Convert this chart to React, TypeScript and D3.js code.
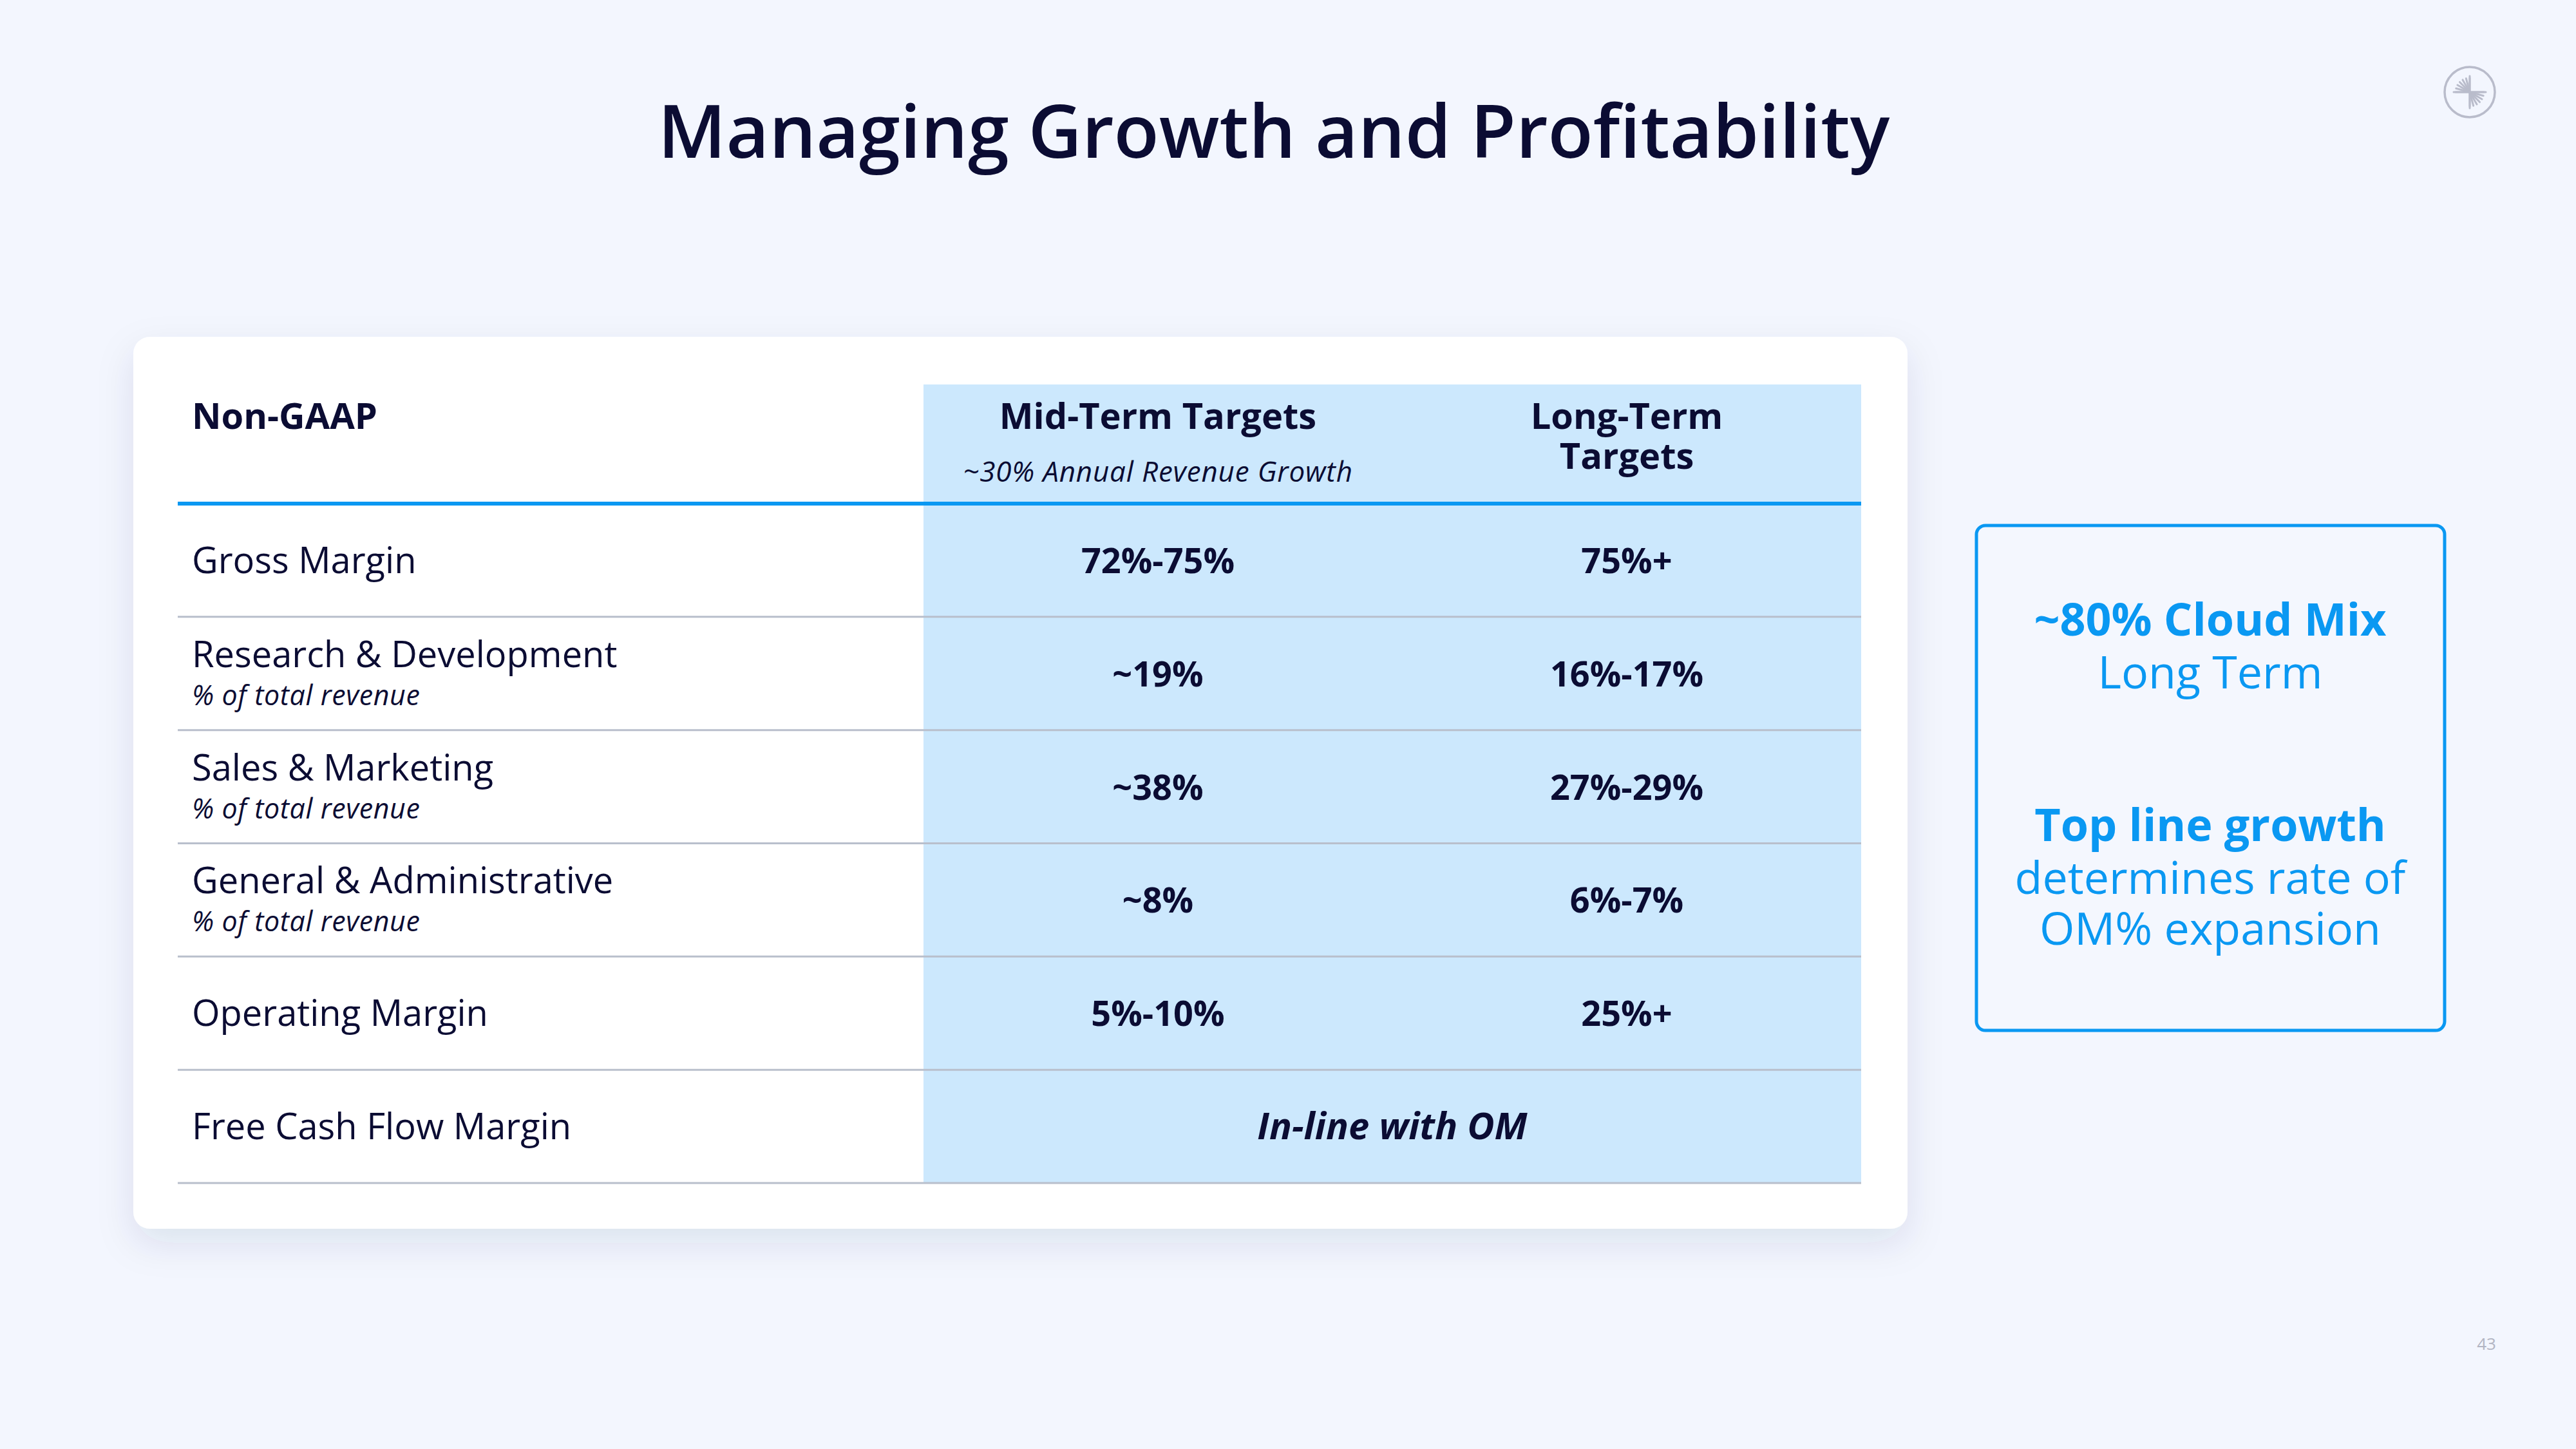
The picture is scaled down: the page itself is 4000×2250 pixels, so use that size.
import React from "react";
import * as d3 from "d3";

const title = "Managing Growth and Profitability";
const headerLabel = "Non-GAAP";
const columnHeaders = [["Mid-Term Targets"], ["Long-Term", "Targets"]];
const midTermNote = "~30% Annual Revenue Growth";
const rowLabels = [
  "Gross Margin",
  "Research & Development",
  "Sales & Marketing",
  "General & Administrative",
  "Operating Margin",
  "Free Cash Flow Margin",
];
const rowSubLabels = ["", "% of total revenue", "% of total revenue", "% of total revenue", "", ""];
const midTerm = ["72%-75%", "~19%", "~38%", "~8%", "5%-10%", "In-line with OM"];
const longTerm = ["75%+", "16%-17%", "27%-29%", "6%-7%", "25%+", ""];
const calloutLines = [
  { text: "~80% Cloud Mix", bold: true },
  { text: "Long Term", bold: false },
  { text: "Top line growth", bold: true },
  { text: "determines rate of", bold: false },
  { text: "OM% expansion", bold: false },
];
const pageNumber = "43";

const W = 4000;
const H = 2250;
const FONT = "'Open Sans', 'Noto Sans', sans-serif";
const NAVY = "#0b0c33";
const BLUE = "#0a98f2";
const LIGHT = "#cce8fd";

export default function App() {
  const tableLeft = 276;
  const tableRight = 2890;
  const blueLeft = 1434;
  const headerTop = 597;
  const headerLine = 782;
  const tableBottom = 1837;

  const y = d3.scaleBand<string>().domain(rowLabels).range([headerLine, tableBottom]).padding(0);
  const x = d3.scaleBand<string>().domain(["mid", "long"]).range([blueLeft, tableRight]).padding(0);
  const cx = (k: string) => (x(k) as number) + x.bandwidth() / 2;

  const calloutY = [987, 1069, 1306, 1388, 1467];
  const logoCx = 3835;
  const logoCy = 143;
  const fanAngles = [-90, -105, -120, -135, -150, -165, -180];

  return (
    <svg
      width={W}
      height={H}
      viewBox={`0 0 ${W} ${H}`}
      style={{ position: "absolute", left: 0, top: 0, display: "block" }}
      fontFamily={FONT}
    >
      <defs>
        <filter id="cardShadow" x="-10%" y="-10%" width="120%" height="130%">
          <feDropShadow dx="0" dy="22" stdDeviation="28" floodColor="#1a2a60" floodOpacity="0.10" />
        </filter>
      </defs>
      <rect x={0} y={0} width={W} height={H} fill="#f3f6fe" />

      <text x={1978} y={245} textAnchor="middle" fontSize={115} fontWeight={600} fill={NAVY}>
        {title}
      </text>

      {/* logo */}
      <g stroke="#b9bccb" strokeLinecap="round" fill="none">
        <circle cx={logoCx} cy={logoCy} r={39} strokeWidth={3.5} />
        <line x1={logoCx} y1={logoCy - 25} x2={logoCx} y2={logoCy + 25} strokeWidth={3} />
        <line x1={logoCx - 25} y1={logoCy} x2={logoCx + 25} y2={logoCy} strokeWidth={3} />
        {fanAngles.map((a) => {
          const r = (a * Math.PI) / 180;
          return (
            <g key={a}>
              <line x1={logoCx} y1={logoCy} x2={logoCx + 22 * Math.cos(r)} y2={logoCy + 22 * Math.sin(r)} strokeWidth={3} />
              <line x1={logoCx} y1={logoCy} x2={logoCx - 22 * Math.cos(r)} y2={logoCy - 22 * Math.sin(r)} strokeWidth={3} />
            </g>
          );
        })}
      </g>

      {/* card */}
      <rect x={207} y={523} width={2755} height={1385} rx={26} fill="#ffffff" filter="url(#cardShadow)" />

      {/* blue column background */}
      <rect x={blueLeft} y={headerTop} width={tableRight - blueLeft} height={tableBottom - headerTop} fill={LIGHT} />

      {/* header */}
      <text x={298} y={666} fontSize={56} fontWeight={700} fill={NAVY}>
        {headerLabel}
      </text>
      <text x={cx("mid")} y={666} textAnchor="middle" fontSize={56} fontWeight={700} fill={NAVY}>
        {columnHeaders[0][0]}
      </text>
      <text x={cx("mid")} y={748} textAnchor="middle" fontSize={44} letterSpacing={0.8} fontStyle="italic" fontWeight={400} fill={NAVY}>
        {midTermNote}
      </text>
      {columnHeaders[1].map((t, i) => (
        <text key={t} x={cx("long")} y={666 + i * 62} textAnchor="middle" fontSize={56} fontWeight={700} fill={NAVY}>
          {t}
        </text>
      ))}

      {/* rows */}
      {rowLabels.map((label, i) => {
        const top = y(label) as number;
        const mid = top + y.bandwidth() / 2;
        const hasSub = rowSubLabels[i] !== "";
        const spanning = longTerm[i] === "";
        return (
          <g key={label}>
            <line x1={tableLeft} x2={tableRight} y1={top + y.bandwidth()} y2={top + y.bandwidth()} stroke="#b9bfcc" strokeWidth={3} />
            <text x={298} y={hasSub ? mid - 10 : mid + 20} fontSize={56} fontWeight={400} fill={NAVY}>
              {label}
            </text>
            {hasSub && (
              <text x={298} y={mid + 49} fontSize={43} letterSpacing={0.6} fontStyle="italic" fill={NAVY}>
                {rowSubLabels[i]}
              </text>
            )}
            {spanning ? (
              <text x={(blueLeft + tableRight) / 2} y={mid + 20} textAnchor="middle" fontSize={58} fontWeight={700} fontStyle="italic" fill={NAVY}>
                {midTerm[i]}
              </text>
            ) : (
              <>
                <text x={cx("mid")} y={mid + 20} textAnchor="middle" fontSize={54} fontWeight={700} fill={NAVY}>
                  {midTerm[i]}
                </text>
                <text x={cx("long")} y={mid + 20} textAnchor="middle" fontSize={54} fontWeight={700} fill={NAVY}>
                  {longTerm[i]}
                </text>
              </>
            )}
          </g>
        );
      })}

      {/* header line */}
      <line x1={tableLeft} x2={tableRight} y1={headerLine} y2={headerLine} stroke={BLUE} strokeWidth={6} />

      {/* callout */}
      <rect x={3069} y={816} width={727} height={784} rx={14} fill="#f4f7fe" stroke={BLUE} strokeWidth={5} />
      {calloutLines.map((l, i) => (
        <text
          key={l.text}
          x={3432}
          y={calloutY[i]}
          textAnchor="middle"
          fontSize={70}
          fontWeight={l.bold ? 700 : 400}
          fill={BLUE}
        >
          {l.text}
        </text>
      ))}

      <text x={3861} y={2096} textAnchor="middle" fontSize={26} fill="#b2b5c3">
        {pageNumber}
      </text>
    </svg>
  );
}
